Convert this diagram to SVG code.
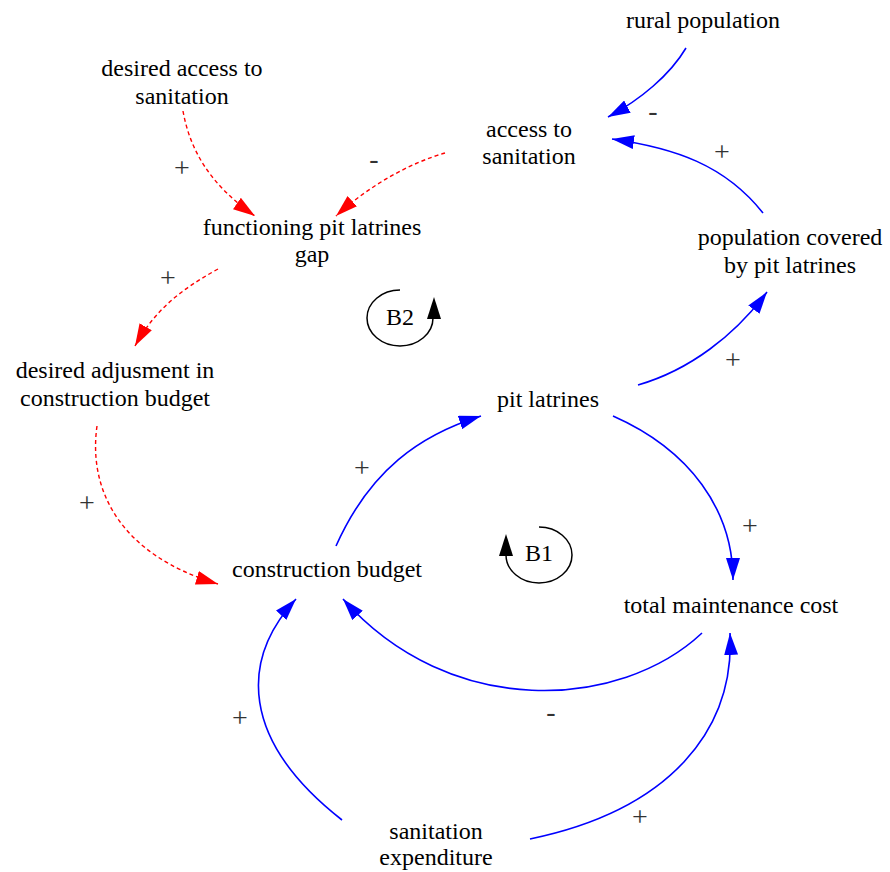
<svg xmlns="http://www.w3.org/2000/svg" width="890" height="872" viewBox="0 0 890 872">
<style>
text{font-family:"Liberation Serif","Times New Roman",serif;font-size:24px;fill:#000;text-anchor:middle}
.sign{fill:#333;font-size:28px}
.b{fill:none;stroke:#0000ff;stroke-width:1.6}
.r{fill:none;stroke:#ff0000;stroke-width:1.4;stroke-dasharray:4,3}
.loop{fill:none;stroke:#000;stroke-width:1.5}
</style>
<defs>
<marker id="ab" viewBox="0 0 22 14" refX="22" refY="7" markerWidth="22" markerHeight="14" markerUnits="userSpaceOnUse" orient="auto"><path d="M0,0 L22,7 L0,14 z" fill="#0000ff"/></marker>
<marker id="ar" viewBox="0 0 22 14" refX="22" refY="7" markerWidth="22" markerHeight="14" markerUnits="userSpaceOnUse" orient="auto"><path d="M0,0 L22,7 L0,14 z" fill="#ff0000"/></marker>
</defs>
<g id="connectors">
<path class="b" marker-end="url(#ab)" d="M686,48 C670,75 640,100 608,117"/>
<path class="b" marker-end="url(#ab)" d="M763,213 C725,165 675,148 612,139"/>
<path class="r" marker-end="url(#ar)" d="M445,153 C410,163 370,185 336,216"/>
<path class="r" marker-end="url(#ar)" d="M183,111 C190,150 210,185 255,216"/>
<path class="r" marker-end="url(#ar)" d="M218,269 C180,290 155,310 135,346"/>
<path class="r" marker-end="url(#ar)" d="M97,426 C88,490 120,555 218,584"/>
<path class="b" marker-end="url(#ab)" d="M336,546 C370,470 420,435 481,416"/>
<path class="b" marker-end="url(#ab)" d="M638,385 C690,370 735,335 767,292"/>
<path class="b" marker-end="url(#ab)" d="M613,416 C690,450 733,510 733,580"/>
<path class="b" marker-end="url(#ab)" d="M702,633 C620,710 450,720 343,599"/>
<path class="b" marker-end="url(#ab)" d="M342,820 C240,740 240,660 296,599"/>
<path class="b" marker-end="url(#ab)" d="M530,839 C670,810 735,730 730,633"/>
</g>
<g id="signs">
<text class="sign" x="182" y="177">+</text>
<text class="sign" x="374" y="168">-</text>
<text class="sign" x="168" y="287">+</text>
<text class="sign" x="653" y="120">-</text>
<text class="sign" x="722" y="161">+</text>
<text class="sign" x="733" y="369">+</text>
<text class="sign" x="362" y="477">+</text>
<text class="sign" x="87" y="512">+</text>
<text class="sign" x="750" y="535">+</text>
<text class="sign" x="551" y="721">-</text>
<text class="sign" x="240" y="727">+</text>
<text class="sign" x="640" y="826">+</text>
</g>
<g id="rural_population"><text x="703" y="28">rural population</text></g>
<g id="desired_access"><text x="182" y="76">desired access to</text><text x="182" y="104">sanitation</text></g>
<g id="access_to_sanitation"><text x="529" y="137">access to</text><text x="529" y="164">sanitation</text></g>
<g id="functioning_gap"><text x="312" y="235">functioning pit latrines</text><text x="312" y="262">gap</text></g>
<g id="population_covered"><text x="790" y="245">population covered</text><text x="790" y="273">by pit latrines</text></g>
<g id="desired_adjustment"><text x="115" y="378">desired adjusment in</text><text x="115" y="406">construction budget</text></g>
<g id="pit_latrines"><text x="548" y="407">pit latrines</text></g>
<g id="construction_budget"><text x="327" y="577">construction budget</text></g>
<g id="total_maintenance_cost"><text x="731" y="613">total maintenance cost</text></g>
<g id="sanitation_expenditure"><text x="436" y="839">sanitation</text><text x="436" y="865">expenditure</text></g>
<g id="loop_B2">
<path class="loop" d="M400,290 A33,28 0 1 0 433,318"/>
<path d="M427,319 L441,319 L434,297 z" fill="#000"/>
<text x="400" y="325">B2</text>
</g>
<g id="loop_B1">
<path class="loop" d="M539,527 A33,28 0 1 1 506,555"/>
<path d="M499,556 L513,556 L506,534 z" fill="#000"/>
<text x="539" y="561">B1</text>
</g>
</svg>
